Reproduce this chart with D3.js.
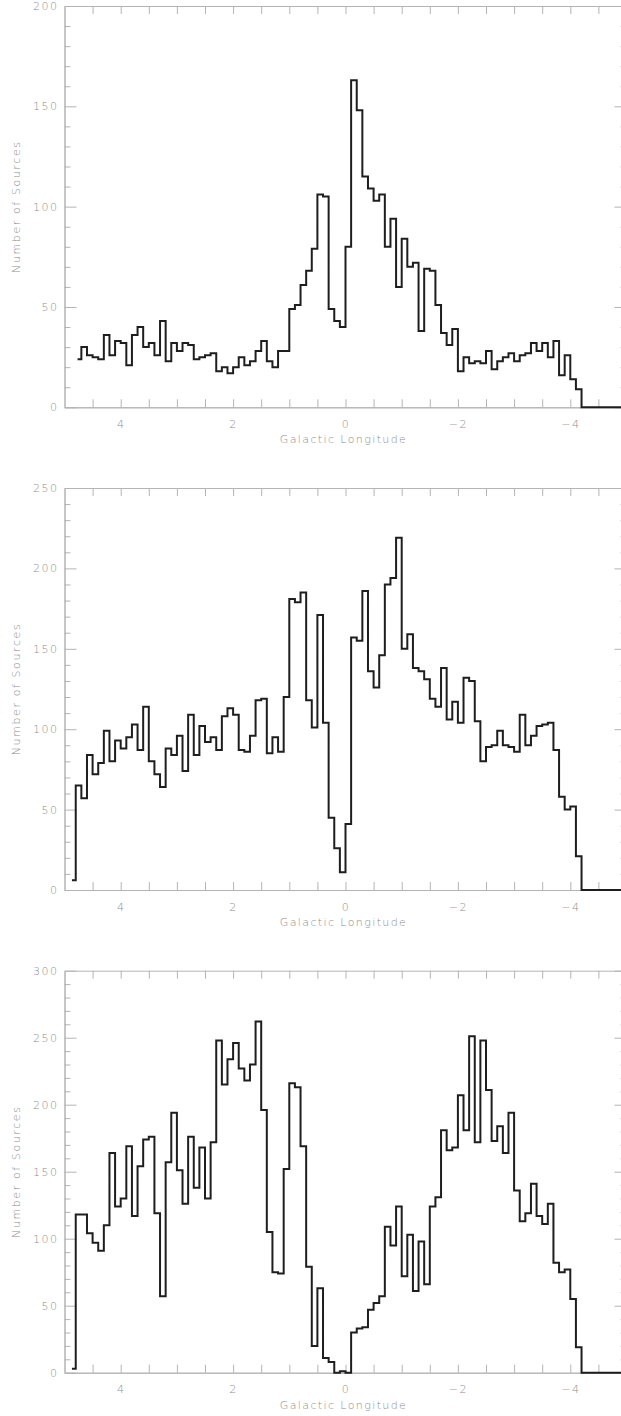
<!DOCTYPE html>
<html>
<head>
<meta charset="utf-8">
<script src="https://cdn.jsdelivr.net/npm/d3@7"></script>
<style>
  html, body { margin: 0; padding: 0; background: #fff; }
  svg { display: block; overflow: hidden; }
  text { font-family: "DejaVu Sans", sans-serif; font-weight: 200; fill: #8c8c8c; }
</style>
</head>
<body>
<svg id="chart" width="621" height="1416"></svg>
<script>
// Bin centres (Galactic longitude, degrees)
const lon = [4.85,4.75,4.65,4.55,4.45,4.35,4.25,4.15,4.05,3.95,
             3.85,3.75,3.65,3.55,3.45,3.35,3.25,3.15,3.05,2.95,
             2.85,2.75,2.65,2.55,2.45,2.35,2.25,2.15,2.05,1.95,
             1.85,1.75,1.65,1.55,1.45,1.35,1.25,1.15,1.05,0.95,
             0.85,0.75,0.65,0.55,0.45,0.35,0.25,0.15,0.05,-0.05,
             -0.15,-0.25,-0.35,-0.45,-0.55,-0.65,-0.75,-0.85,-0.95,-1.05,
             -1.15,-1.25,-1.35,-1.45,-1.55,-1.65,-1.75,-1.85,-1.95,-2.05,
             -2.15,-2.25,-2.35,-2.45,-2.55,-2.65,-2.75,-2.85,-2.95,-3.05,
             -3.15,-3.25,-3.35,-3.45,-3.55,-3.65,-3.75,-3.85,-3.95,-4.05,
             -4.15,-4.25,-4.35,-4.45,-4.55,-4.65,-4.75,-4.85,-4.95];

const counts1 = [null,24,30,26,25,24,36,26,33,32,
                 21,36,40,30,32,26,43,23,32,28,
                 32,31,24,25,26,27,18,20,17,20,
                 25,21,23,28,33,23,20,28,28,49,
                 51,61,68,79,106,105,49,43,40,80,
                 163,148,115,109,103,106,80,94,60,84,
                 70,72,38,69,68,51,37,31,39,18,
                 25,22,23,22,28,19,23,25,27,23,
                 26,27,32,28,32,25,33,16,26,14,
                 9,0,0,0,0,0,0,0,0];

const counts2 = [6,65,57,84,72,79,99,80,93,88,
                 95,103,87,114,80,72,64,88,84,96,
                 74,109,84,102,92,95,87,108,113,109,
                 87,86,96,118,119,85,95,86,120,181,
                 179,185,118,101,171,104,45,26,11,41,
                 157,155,186,136,126,146,190,194,219,150,
                 159,138,136,131,119,114,138,106,117,104,
                 132,130,105,80,89,90,99,90,89,86,
                 109,90,96,102,103,104,87,58,50,52,
                 21,0,0,0,0,0,0,0,0];

const counts3 = [3,118,118,104,97,91,110,164,124,130,
                 169,117,154,174,176,119,57,157,194,151,
                 126,176,138,168,130,172,248,215,234,246,
                 227,218,230,262,196,105,75,74,152,216,
                 213,169,79,20,63,11,8,0,1,0,
                 30,33,34,47,52,57,109,95,124,72,
                 103,61,98,66,124,131,181,166,168,207,
                 181,251,172,248,211,173,184,164,194,136,
                 113,119,141,117,111,126,82,75,77,55,
                 19,0,0,0,0,0,0,0,0];

const xMajorTicks = [4, 2, 0, -2, -4];
const xMinorTicks = [4.5, 3.5, 3, 2.5, 1.5, 1, 0.5, -0.5, -1, -1.5, -2.5, -3, -3.5, -4.5];
const yTicks1 = [0, 50, 100, 150, 200];
const yTicks2 = [0, 50, 100, 150, 200, 250];
const yTicks3 = [0, 50, 100, 150, 200, 250, 300];

const xLabel = "Galactic Longitude";
const yLabel = "Number of Sources";

const panels = [
  { counts: counts1, yMax: 200, yTicks: yTicks1, top: 6,     bottom: 407.3 },
  { counts: counts2, yMax: 250, yTicks: yTicks2, top: 488,   bottom: 890   },
  { counts: counts3, yMax: 300, yTicks: yTicks3, top: 970.7, bottom: 1372.7 }
];

const svg = d3.select("#chart");
const left = 64.5, right = 626.5;
const x = d3.scaleLinear().domain([5, -5]).range([left, right]);
const axisColor = "#b4b4b4";

function styleAxis(g) {
  g.select(".domain").attr("stroke", axisColor).attr("stroke-width", 1);
  g.selectAll(".tick line").attr("stroke", axisColor).attr("stroke-width", 1);
  g.selectAll(".tick text").attr("fill", "#8c8c8c").attr("font-size", 11)
    .attr("letter-spacing", "1.5px").attr("font-family", '"DejaVu Sans", sans-serif')
    .attr("font-weight", 200);
}

panels.forEach(p => {
  const y = d3.scaleLinear().domain([0, p.yMax]).range([p.bottom, p.top]);
  const yMinor = d3.range(10, p.yMax, 10).filter(v => v % 50 !== 0);
  const g = svg.append("g");

  // bottom axis
  g.append("g").attr("transform", `translate(0,${p.bottom})`)
    .call(d3.axisBottom(x).tickValues(xMinorTicks).tickSize(-8).tickFormat("").tickSizeOuter(0))
    .call(styleAxis);
  g.append("g").attr("transform", `translate(0,${p.bottom})`)
    .call(d3.axisBottom(x).tickValues(xMajorTicks).tickSize(-8).tickPadding(13).tickSizeOuter(0))
    .call(styleAxis);
  // top axis
  g.append("g").attr("transform", `translate(0,${p.top})`)
    .call(d3.axisTop(x).tickValues(xMinorTicks.concat(xMajorTicks)).tickSize(-8).tickFormat("").tickSizeOuter(0))
    .call(styleAxis);
  // left axis
  g.append("g").attr("transform", `translate(${left},0)`)
    .call(d3.axisLeft(y).tickValues(yMinor).tickSize(-6).tickFormat("").tickSizeOuter(0))
    .call(styleAxis);
  g.append("g").attr("transform", `translate(${left},0)`)
    .call(d3.axisLeft(y).tickValues(p.yTicks).tickSize(-12).tickPadding(6).tickSizeOuter(0))
    .call(styleAxis);
  // right axis
  g.append("g").attr("transform", `translate(${right},0)`)
    .call(d3.axisRight(y).tickValues(yMinor).tickSize(-6).tickFormat("").tickSizeOuter(0))
    .call(styleAxis);
  g.append("g").attr("transform", `translate(${right},0)`)
    .call(d3.axisRight(y).tickValues(p.yTicks).tickSize(-12).tickFormat("").tickSizeOuter(0))
    .call(styleAxis);

  // axis titles
  g.append("text")
    .attr("x", (left + right) / 2 - 2).attr("y", p.bottom + 36)
    .attr("text-anchor", "middle").attr("font-size", 11).attr("letter-spacing", "1.4px")
    .text(xLabel);
  g.append("text")
    .attr("transform", `translate(20,${(p.top + p.bottom) / 2}) rotate(-90)`)
    .attr("text-anchor", "middle").attr("font-size", 11).attr("letter-spacing", "1.6px")
    .text(yLabel);

  // histogram (psym=10 style step)
  const data = lon.map((l, i) => ({ l, v: p.counts[i] }));
  const line = d3.line()
    .defined(d => d.v !== null)
    .x(d => x(d.l))
    .y(d => y(d.v))
    .curve(d3.curveStep);
  g.append("path").datum(data)
    .attr("d", line)
    .attr("fill", "none")
    .attr("stroke", "#1e1e1e")
    .attr("stroke-width", 2)
    .attr("stroke-linejoin", "miter")
    .attr("stroke-linecap", "square");
});
</script>
</body>
</html>
